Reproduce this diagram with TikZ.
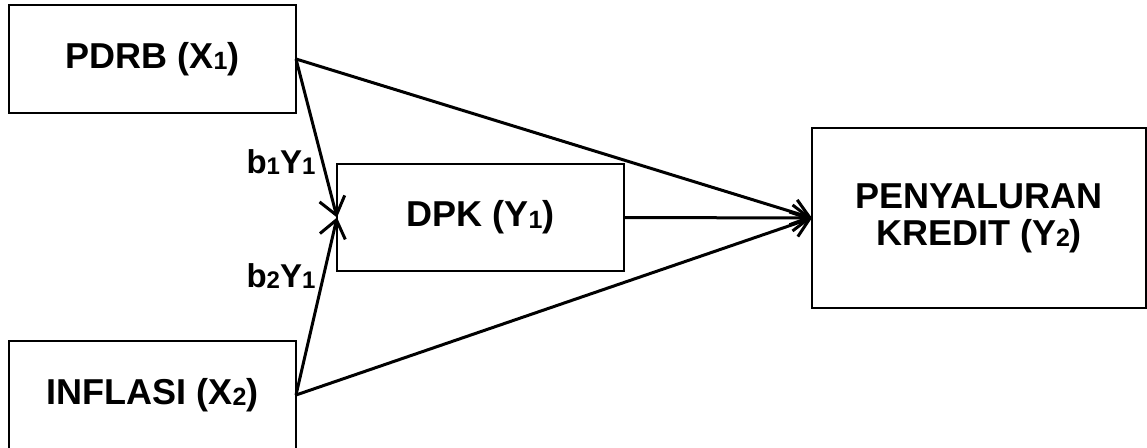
\documentclass[tikz,border=0pt]{standalone}
\usepackage{fontspec}
\setmainfont{Liberation Sans}
\usetikzlibrary{arrows.meta}
\newcommand{\bigsub}[1]{\raisebox{-1.5pt}{\fontsize{25}{25}\selectfont #1}}
\newcommand{\smallsub}[1]{\raisebox{-1pt}{\fontsize{24}{24}\selectfont #1}}
\tikzset{
  box/.style={draw=black, line width=1.3pt, inner sep=0pt, outer sep=0pt,
    font=\fontsize{36}{37}\selectfont\bfseries, align=center},
  link/.style={line width=3pt, -{Straight Barb[length=17pt,width=26pt,line width=3pt]}},
  lbl/.style={font=\fontsize{33}{34}\selectfont\bfseries, inner sep=0pt}
}
\begin{document}
\begin{tikzpicture}[x=1pt,y=-1pt]
\useasboundingbox (0,0) rectangle (1147,447);
\node[box, minimum width=287pt, minimum height=108pt] (pdrb) at (152.5,59) {PDRB (X\bigsub{1})};
\node[box, minimum width=287pt, minimum height=107pt] (dpk) at (480.5,217.5) {DPK (Y\bigsub{1})};
\node[box, minimum width=334pt, minimum height=180pt] (kredit) at (979,218) {PENYALURAN\\KREDIT (Y\bigsub{2})};
\node[box, minimum width=287pt, minimum height=108pt] (infl) at (152.5,395) {INFLASI (X\bigsub{2})};
\draw[link] (pdrb.east) -- (dpk.west);
\draw[link] (infl.east) -- (dpk.west);
\draw[link] (pdrb.east) -- (kredit.west);
\draw[link] (infl.east) -- (kredit.west);
\draw[link] (dpk.east) -- (kredit.west);
\node[lbl] (l1) at (281,162) {b\smallsub{1}Y\smallsub{1}};
\node[lbl] (l2) at (281,276) {b\smallsub{2}Y\smallsub{1}};
\end{tikzpicture}
\end{document}
